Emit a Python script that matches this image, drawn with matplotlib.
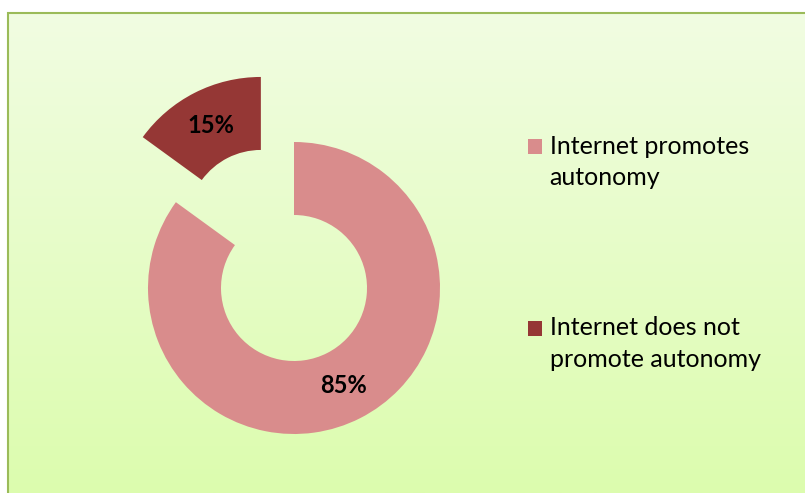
import numpy as np
import matplotlib.pyplot as plt
from matplotlib.patches import Rectangle
from matplotlib.colors import LinearSegmentedColormap
from matplotlib.legend_handler import HandlerPatch

# survey shares
labels = ['Internet promotes\nautonomy', 'Internet does not\npromote autonomy']
shares = [85, 15]
colors = ['#D98C8C', '#953735']
explode = [0, 0.5]

W, H = 805, 493
fig = plt.figure(figsize=(W / 100, H / 100), dpi=100)
fig.patch.set_facecolor('white')

# chart area with soft vertical gradient and green frame
bg = fig.add_axes([8 / W, 0, 1 - 8 / W, 1 - 13 / H])
grad = np.linspace(0, 1, 256).reshape(-1, 1)
cmap = LinearSegmentedColormap.from_list('bg', ['#F1FDE2', '#DCFCAE'])
bg.imshow(grad, aspect='auto', cmap=cmap, extent=[0, 1, 0, 1], origin='upper')
bg.set_xlim(0, 1)
bg.set_ylim(0, 1)
bg.axis('off')
fig.patches.append(Rectangle((8 / W, -0.01), 1.0, 1 - 13 / H + 0.01,
                             transform=fig.transFigure, fill=False,
                             edgecolor='#9BBB59', linewidth=1.5, zorder=5))

# donut, centre (294, 288) px, outer radius 146 px
cx, cy, R = 294, H - 288, 146
L = 1.6
side = 2 * L * R
ax = fig.add_axes([(cx - side / 2) / W, (cy - side / 2) / H, side / W, side / H])
ax.set_facecolor('none')
wedges, texts, autotexts = ax.pie(
    shares, colors=colors, explode=explode, startangle=90, counterclock=False,
    autopct='%d%%', pctdistance=0.75,
    wedgeprops=dict(width=0.5, linewidth=0),
    textprops=dict(fontsize=17, fontweight='bold', family='Lato', color='black'))
ax.set_xlim(-L, L)
ax.set_ylim(-L, L)
ax.set_aspect('equal')
ax.axis('off')


# legend square sits next to the first line of a two-line label
def top_square(legend, orig_handle, xdescent, ydescent, width, height, fontsize):
    return Rectangle((-xdescent, -ydescent + 11.5), width, height)


leg = fig.legend(wedges, labels, loc='upper left', bbox_to_anchor=(505 / W, 1 - 112 / H),
                 frameon=False, prop=dict(family='Lato', size=18),
                 handlelength=0.56, handleheight=0.56, handletextpad=0.32,
                 labelspacing=5.1,
                 handler_map={w: HandlerPatch(patch_func=top_square) for w in wedges})
for t in leg.get_texts():
    t.set_linespacing(1.44)

fig.savefig('out.png', dpi=100, facecolor=fig.get_facecolor())
